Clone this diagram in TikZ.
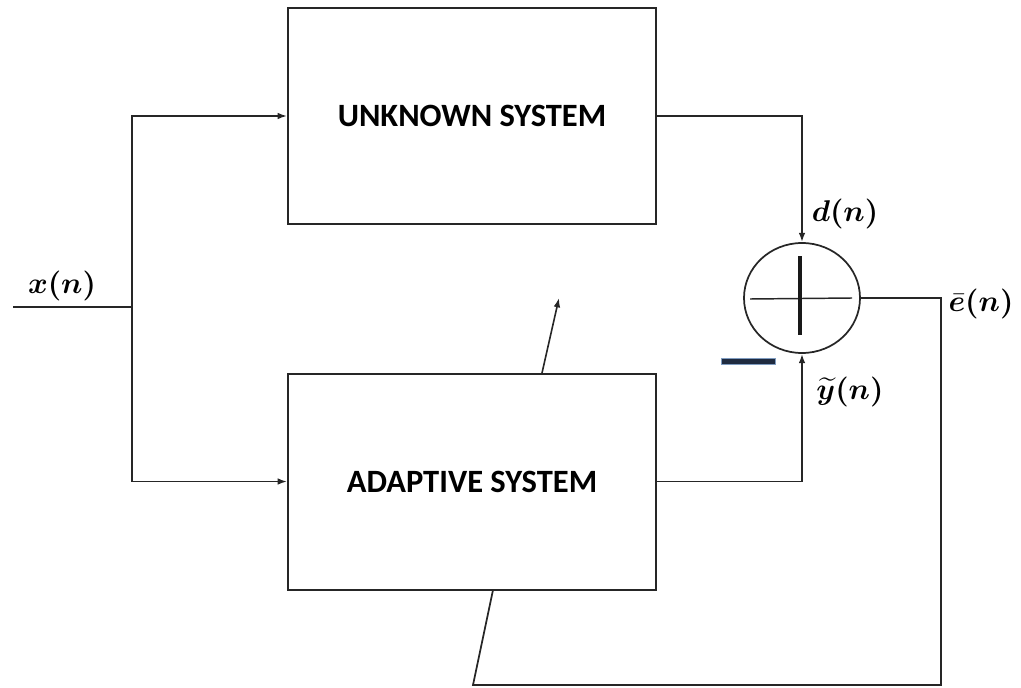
\documentclass[tikz,border=0pt]{standalone}
\usepackage{amsmath,bm}
\usepackage{fontspec}
\newfontfamily\labelfont{Carlito}
\usetikzlibrary{arrows.meta,shapes.geometric}
\definecolor{minusnavy}{HTML}{1F2B40}
\definecolor{minusedge}{HTML}{7F9CC0}
\newcommand{\siglabel}[1]{\scalebox{2.25}{$\bm{#1}$}}
\begin{document}
\begin{tikzpicture}[x=0.75pt,y=-0.75pt,
  wire/.style={line width=1.3pt,draw=black!85},
  sig/.style={wire,-{Latex[length=7pt,width=5pt]}},
  sysbox/.style={draw=black!85,line width=1.5pt,minimum width=368*0.75pt,minimum height=216*0.75pt,
    font=\labelfont\bfseries\fontsize{24.4}{27}\selectfont},
  mlabel/.style={inner sep=0pt}]
\useasboundingbox (0,0) rectangle (1021,688);
% blocks
\node[sysbox] (unk) at (472,116) {\raisebox{-1pt}{UNKNOWN SYSTEM}};
\node[sysbox] (ada) at (472,481.5) {ADAPTIVE SYSTEM};
% summing junction
\node[draw=black!85,line width=1.3pt,ellipse,minimum width=116*0.75pt,minimum height=110*0.75pt,inner sep=0pt] (sum) at (802,298) {};
\draw[line width=1.1pt,black!85] (750,299) -- (852,298);
\draw[line width=2.4pt,black!90] (800,256) -- (800,335);
% input and split
\coordinate (in) at (13,307);
\coordinate (split) at (132,307);
\draw[wire] (in) -- (split);
\draw[sig] (split) |- (unk.west);
\draw[sig] (split) |- (ada.west);
% outputs into the junction
\draw[sig] (unk.east) -| (sum.north);
\draw[sig] (ada.east) -| (sum.south);
% error feedback
\coordinate (ecorner) at (941,298);
\coordinate (bl) at (473,685);
\coordinate (fb) at (493,590);
\draw[wire] (sum.east) -- (ecorner) |- (bl) -- (fb);
% adaptation arrow
\coordinate (adj) at (559,298);
\draw[sig,line width=1.2pt] (542,373) -- (adj);
% minus sign
\filldraw[fill=minusnavy,draw=minusedge,line width=0.5pt] (721,358) rectangle (775,364);
% labels
\node[mlabel] (xl) at (62,286) {\siglabel{x(n)}};
\node[mlabel] (dl) at (845,214) {\siglabel{d(n)}};
\node[mlabel] (el) at (981,304) {\siglabel{\bar{e}(n)}};
\node[mlabel] (yl) at (850,392) {\siglabel{\widetilde{y}(n)}};
\end{tikzpicture}
\end{document}
